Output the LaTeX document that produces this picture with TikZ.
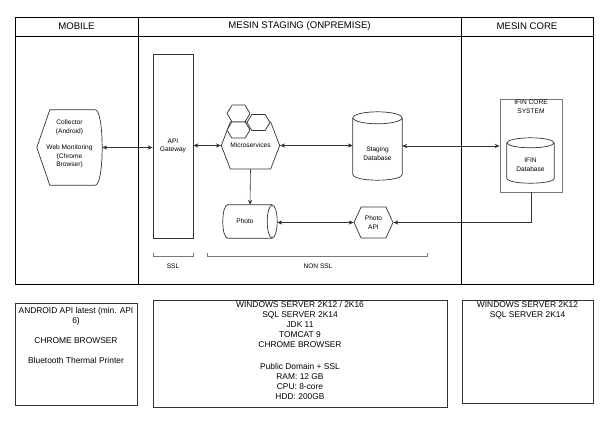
\documentclass[tikz,border=0pt]{standalone}
\usepackage{fontspec}
\setmainfont{Liberation Sans}
\usetikzlibrary{arrows.meta,shapes.geometric,shapes.symbols,positioning}
\definecolor{dgline}{RGB}{51,51,51}
\definecolor{dggray}{RGB}{120,120,120}
\tikzstyle{lane} = [draw=black, line width=0.8pt]
\tikzstyle{boxline} = [draw=dgline, line width=0.7pt]
\tikzstyle{small} = [font=\fontsize{6.6}{8.5}\selectfont, align=center, text=black]
\tikzstyle{spec} = [font=\fontsize{8.4}{10}\selectfont, align=center, text=black, inner sep=0pt]
\tikzstyle{link} = [draw=dgline, line width=0.6pt, {Stealth[length=5pt,width=4.2pt]}-{Stealth[length=5pt,width=4.2pt]}]
\tikzstyle{arrow} = [draw=dgline, line width=0.6pt, -{Stealth[length=5pt,width=4.2pt]}]
\tikzset{
  hexa/.style={boxline, fill=white, signal, signal to=east and west, signal pointer angle=#1, inner sep=0pt, small},
  dbase/.style={inner sep=0pt},
}
% upright cylinder round a node: #1 node, #2 x radius, #3 y radius
\newcommand{\drawdb}[3]{%
  \draw[boxline, fill=white] ([yshift=-#3]#1.north west) -- ([yshift=#3]#1.south west)
    .. controls ([yshift=-0.333*#3]#1.south west) and ([yshift=-0.333*#3]#1.south east) .. ([yshift=#3]#1.south east)
    -- ([yshift=-#3]#1.north east);
  \draw[boxline, fill=white] ([yshift=-#3]#1.north) ellipse [x radius=#2, y radius=#3];
}

\begin{document}
\begin{tikzpicture}[x=1pt, y=-1pt]
\path[use as bounding box, fill=white] (0,0) rectangle (608,423);

% Swimlanes
\draw[lane] (15,17) rectangle (593,284);
\draw[lane] (15,36) -- (593,36);
\draw[lane] (138,17) -- (138,284);
\draw[lane] (461,17) -- (461,284);
\node[font=\fontsize{9.6}{11}\selectfont] (hmobile) at (76.5,26.5) {MOBILE};
\node[font=\fontsize{9.6}{11}\selectfont] (hstaging) at (299.5,26.5) {MESIN STAGING (ONPREMISE)};
\node[font=\fontsize{9.6}{11}\selectfont] (hcore) at (527,26.5) {MESIN CORE};

% Mobile client
\node[minimum width=65pt, minimum height=75pt, inner sep=0pt,
  label={[small, yshift=3.5pt]center:{Collector\\(Android)\\[8pt]Web Monitoring\\(Chrome\\Browser)}}] (mobile) at (69.5,147.5) {};
\draw[boxline] (mobile.west) -- ([xshift=13pt]mobile.north west) -- ([xshift=-7pt]mobile.north east)
  .. controls ([xshift=2.3pt]mobile.north east) and ([xshift=2.3pt]mobile.south east) .. ([xshift=-7pt]mobile.south east)
  -- ([xshift=13pt]mobile.south west) -- cycle;

% Staging
\node[boxline, small, minimum width=40pt, minimum height=184pt, inner sep=0pt] (gateway) at (173,146) {API\\Gateway};
\node[hexa=138, minimum width=53pt, minimum height=47pt] (micro) at (250.5,145.5) {Microservices};
\node[hexa=118, minimum width=23pt, minimum height=17pt] (hexa1) at (238.5,113.5) {};
\node[hexa=118, minimum width=23pt, minimum height=16pt] (hexa3) at (258.5,122.5) {};
\node[hexa=118, minimum width=23pt, minimum height=16pt] (hexa2) at (238.5,130) {};
\node[dbase, minimum width=49pt, minimum height=68pt] (stagingdb) at (377.5,146) {};
\drawdb{stagingdb}{24.5pt}{6pt}
\node[small] (stagingtext) at ([yshift=-7.5pt]stagingdb.center) {Staging\\Database};
\node[hexa=131, minimum width=39pt, minimum height=31pt] (photoapi) at (373.5,222.5) {Photo\\API};

% Photo store (lying cylinder)
\node[dbase, minimum width=54pt, minimum height=33pt] (photo) at (250,221.5) {};
\draw[boxline, fill=white] ([xshift=-5pt]photo.north east) -- ([xshift=5pt]photo.north west)
  .. controls ([xshift=-1.67pt]photo.north west) and ([xshift=-1.67pt]photo.south west) .. ([xshift=5pt]photo.south west)
  -- ([xshift=-5pt]photo.south east);
\draw[boxline, fill=white] ([xshift=-5pt]photo.east) ellipse [x radius=5pt, y radius=16.5pt];
\node[small] (phototext) at ([xshift=-5pt]photo.center) {Photo};

% Core
\node[boxline, draw=dggray, minimum width=62pt, minimum height=93pt,
  label={[small, anchor=north, inner sep=1.5pt]north:{IFIN CORE\\SYSTEM}}] (ifincore) at (531,145.5) {};
\node[dbase, minimum width=47pt, minimum height=45pt] (ifindb) at (530.5,160.5) {};
\drawdb{ifindb}{23.5pt}{5pt}
\node[small] (ifintext) at ([yshift=-4.5pt]ifindb.center) {IFIN\\Database};

% Connectors
\draw[link] (mobile.east) -- (mobile.east -| gateway.west);
\draw[link] (gateway.east |- micro.west) -- (micro.west);
\draw[link] (micro.east) -- (micro.east -| stagingdb.west);
\draw[link] (stagingdb.east) -- (stagingdb.east -| ifincore.west);
\draw[arrow] (micro.south) -- (photo.north);
\draw[link] (photo.east |- photoapi.west) -- (photoapi.west);
\draw[arrow] (ifincore.south) |- (photoapi.east);

% Brackets
\draw[dggray, line width=0.6pt] (153,253) -- (153,256) -- (193,256) -- (193,253);
\draw[dggray, line width=0.6pt] (207,253) -- (207,256) -- (427,256) -- (427,253);
\node[small] (ssl) at (173,266) {SSL};
\node[small] (nonssl) at (318,266) {NON SSL};

% Specifications
\draw[boxline] (15,303) rectangle (137,405);
\node[spec, anchor=north] (mobilespec) at (76,307) {ANDROID API latest (min. API\\6)\\[10pt]CHROME BROWSER\\[10pt]Bluetooth Thermal Printer};
\draw[boxline] (153,300) rectangle (447,407);
\node[spec, anchor=north] (stagingspec) at (300,301.5) {WINDOWS SERVER 2K12 / 2K16\\SQL SERVER 2K14\\JDK 11\\TOMCAT 9\\CHROME BROWSER\\[12pt]Public Domain + SSL\\RAM: 12 GB\\CPU: 8-core\\HDD: 200GB};
\draw[boxline] (462,300) rectangle (593,403);
\node[spec, anchor=north] (corespec) at (527.5,301.5) {WINDOWS SERVER 2K12\\SQL SERVER 2K14};
\end{tikzpicture}
\end{document}
